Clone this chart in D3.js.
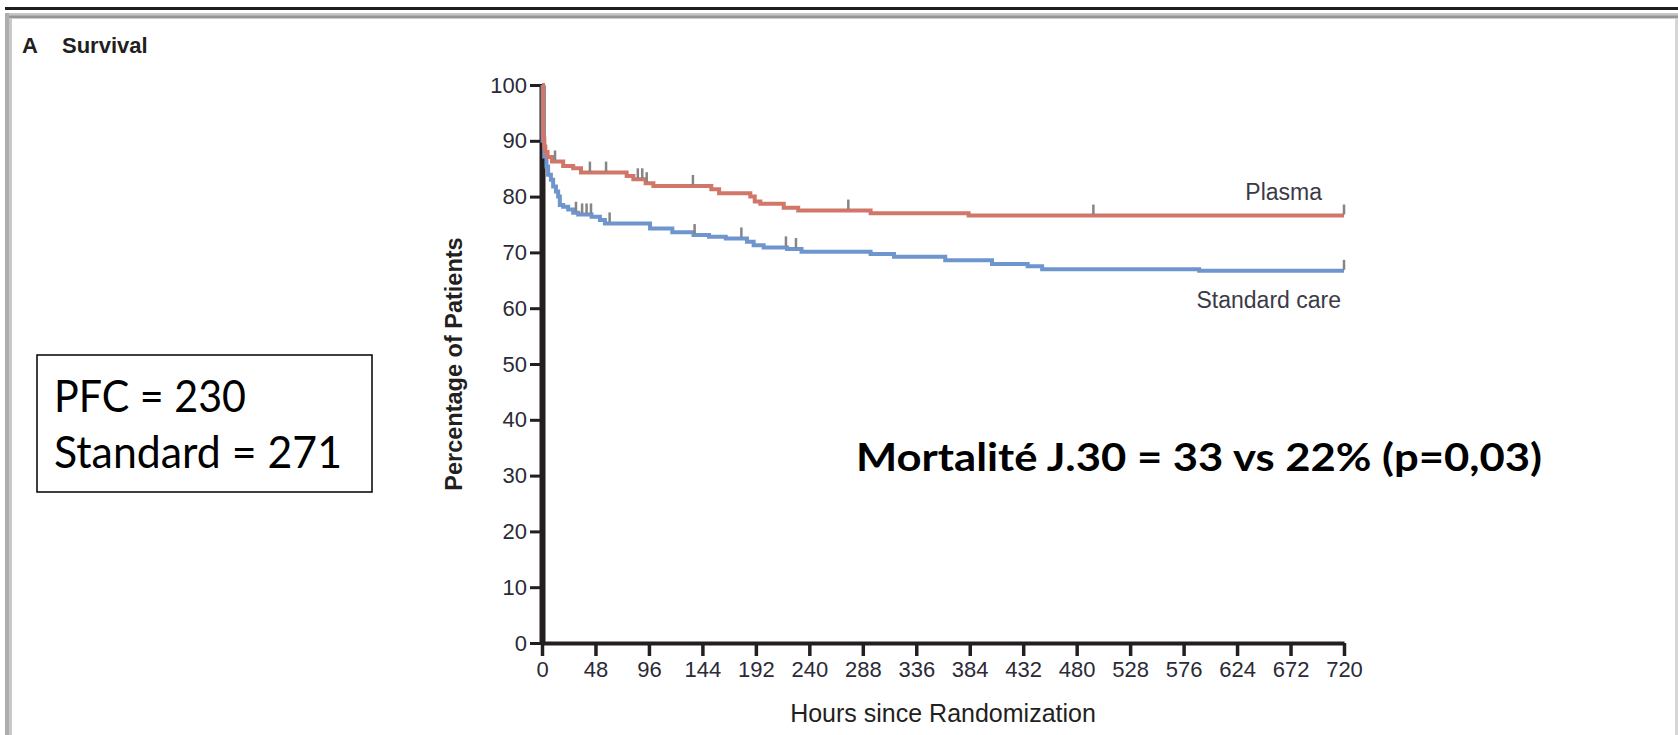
<!DOCTYPE html>
<html>
<head>
<meta charset="utf-8">
<script src="https://cdn.jsdelivr.net/npm/d3@7"></script>
<style>
  html, body { margin: 0; padding: 0; background: #ffffff; overflow: hidden; }
  svg { display: block; }
</style>
</head>
<body>
<svg id="chart" width="1678" height="735"></svg>
<script>
// Kaplan-Meier survival, hours since randomization
const xTicks = [0, 48, 96, 144, 192, 240, 288, 336, 384, 432, 480, 528, 576, 624, 672, 720];
const yTicks = [0, 10, 20, 30, 40, 50, 60, 70, 80, 90, 100];

// Plasma arm: step times (h) and survival (%)
const plasmaTimes    = [0, 1, 2, 3, 5, 9, 19, 28, 35, 76, 82, 93, 100, 152, 159, 187, 191, 196, 217, 230, 295, 383, 720];
const plasmaSurvival = [100, 90.5, 89, 88, 87.1, 86.3, 85.5, 85.1, 84.3, 83.7, 83.1, 82.4, 81.9, 81.3, 80.6, 80.0, 79.1, 78.7, 78.0, 77.5, 77.0, 76.6, 76.6];
const plasmaCensored = [11.7, 43, 57.5, 86, 90, 94, 135.5, 275, 495, 720];

// Standard care arm
const standardTimes    = [0, 0.5, 2, 4, 5.5, 8, 10, 12.5, 14.5, 16, 19, 23.5, 28, 32.5, 44.5, 52, 56.5, 97, 117, 136, 150, 165, 184, 190, 199, 220, 233, 295, 316, 362, 404, 436, 449, 590, 720];
const standardSurvival = [100, 90, 87.2, 85.4, 83.9, 83.0, 81.8, 80.9, 80.0, 78.5, 78.2, 77.7, 77.1, 76.8, 76.4, 75.8, 75.2, 74.3, 73.6, 73.1, 72.8, 72.5, 71.9, 71.3, 70.9, 70.6, 70.1, 69.7, 69.2, 68.6, 67.9, 67.5, 67.0, 66.7, 66.7];
const standardCensored = [30.5, 36, 40, 44, 60.7, 137, 179, 219, 228, 720];

const seriesNames = ["Plasma", "Standard care"];
const seriesColors = ["#d3766a", "#6f95ce"];

const svg = d3.select("#chart");
const ink = "#231f20";
const chartFont = "'Liberation Sans', Arial, sans-serif";

// ---- page frame ----
svg.append("rect").attr("x", 5).attr("y", 7).attr("width", 1673).attr("height", 3).attr("fill", "#1e1e1e");
svg.append("rect").attr("x", 5).attr("y", 13).attr("width", 1673).attr("height", 3).attr("fill", "#c6c6c6");
svg.append("rect").attr("x", 9).attr("y", 15.5).attr("width", 1669).attr("height", 3).attr("fill", "#959595");
svg.append("rect").attr("x", 5).attr("y", 13).attr("width", 4).attr("height", 722).attr("fill", "#adadad");
svg.append("rect").attr("x", 9).attr("y", 18.5).attr("width", 3).attr("height", 717).attr("fill", "#c8c8c8");
svg.append("rect").attr("x", 1675).attr("y", 18.5).attr("width", 3).attr("height", 717).attr("fill", "#d6d6d6");

// ---- panel title ----
const title = svg.append("g").attr("font-family", chartFont).attr("font-weight", "bold")
  .attr("font-size", 22).attr("fill", ink);
title.append("text").attr("x", 22).attr("y", 53).text("A");
title.append("text").attr("x", 62).attr("y", 53).text("Survival");

// ---- scales ----
const x = d3.scaleLinear().domain([0, 720]).range([542, 1344]);
const y = d3.scaleLinear().domain([0, 100]).range([643, 85]);

// ---- axes ----
const yAxis = svg.append("g").attr("transform", `translate(${x(0)},0)`)
  .call(d3.axisLeft(y).tickValues(yTicks).tickSize(12).tickSizeOuter(0).tickPadding(3));
yAxis.select(".domain").attr("stroke", ink).attr("stroke-width", 6);
yAxis.selectAll(".tick line").attr("stroke", ink).attr("stroke-width", 3);
yAxis.selectAll(".tick text").attr("font-family", chartFont).attr("font-size", 22).attr("fill", "#2b2a36");

const xAxis = svg.append("g").attr("transform", `translate(0,${y(0)})`)
  .call(d3.axisBottom(x).tickValues(xTicks).tickSize(13).tickSizeOuter(0).tickPadding(5));
xAxis.select(".domain").attr("stroke", ink).attr("stroke-width", 4);
xAxis.selectAll(".tick line").attr("stroke", ink).attr("stroke-width", 3.5);
xAxis.selectAll(".tick text").attr("font-family", chartFont).attr("font-size", 22).attr("fill", "#2b2a36");

// axis titles
svg.append("text")
  .attr("transform", `translate(462,${y(50)}) rotate(-90)`)
  .attr("text-anchor", "middle").attr("font-family", chartFont).attr("font-size", 23.5)
  .attr("font-weight", "bold").attr("fill", ink)
  .text("Percentage of Patients");
svg.append("text")
  .attr("x", (x(0) + x(720)) / 2).attr("y", 722)
  .attr("text-anchor", "middle").attr("font-family", chartFont).attr("font-size", 25)
  .attr("fill", ink)
  .text("Hours since Randomization");

// ---- survival curves ----
function toPoints(times, surv) { return times.map((t, i) => ({ t: t, s: surv[i] })); }
function survivalAt(times, surv, t) {
  let v = surv[0];
  for (let i = 0; i < times.length; i++) { if (times[i] <= t) v = surv[i]; }
  return v;
}
const arms = [
  { name: seriesNames[0], color: seriesColors[0], times: plasmaTimes, surv: plasmaSurvival, cens: plasmaCensored },
  { name: seriesNames[1], color: seriesColors[1], times: standardTimes, surv: standardSurvival, cens: standardCensored }
];
const stepLine = d3.line().x(d => x(d.t)).y(d => y(d.s)).curve(d3.curveStepAfter);

// standard care underneath, plasma on top
[arms[1], arms[0]].forEach(arm => {
  svg.append("path")
    .datum(toPoints(arm.times, arm.surv))
    .attr("d", stepLine)
    .attr("fill", "none")
    .attr("stroke", arm.color)
    .attr("stroke-width", 4);
});

// censoring marks
arms.forEach(arm => {
  svg.append("g").selectAll("line").data(arm.cens).join("line")
    .attr("x1", t => x(t)).attr("x2", t => x(t))
    .attr("y1", t => y(survivalAt(arm.times, arm.surv, t)) - 1)
    .attr("y2", t => y(survivalAt(arm.times, arm.surv, t)) - 11)
    .attr("stroke", "#858585").attr("stroke-width", 2.5);
});

// curve labels
svg.append("text").attr("x", 1322).attr("y", 200).attr("text-anchor", "end")
  .attr("font-family", chartFont).attr("font-size", 23).attr("fill", "#3b3a46").text(seriesNames[0]);
svg.append("text").attr("x", 1341).attr("y", 308).attr("text-anchor", "end")
  .attr("font-family", chartFont).attr("font-size", 23).attr("fill", "#3b3a46").text(seriesNames[1]);

// ---- sample size box ----
const boxFont = "Lato, 'Open Sans', sans-serif";
svg.append("rect").attr("x", 37).attr("y", 355).attr("width", 335).attr("height", 137)
  .attr("fill", "#ffffff").attr("stroke", "#000000").attr("stroke-width", 1.5);
svg.append("text").attr("x", 54).attr("y", 412).attr("font-family", boxFont).attr("font-size", 44)
  .attr("fill", "#000").attr("textLength", 192).attr("lengthAdjust", "spacingAndGlyphs").text("PFC = 230");
svg.append("text").attr("x", 54).attr("y", 468).attr("font-family", boxFont).attr("font-size", 44)
  .attr("fill", "#000").attr("textLength", 288).attr("lengthAdjust", "spacingAndGlyphs").text("Standard = 271");

// ---- 30-day mortality note ----
svg.append("text").attr("x", 856).attr("y", 471).attr("font-family", boxFont).attr("font-weight", "bold")
  .attr("font-size", 39).attr("fill", "#000")
  .attr("textLength", 686).attr("lengthAdjust", "spacingAndGlyphs")
  .text("Mortalité J.30 = 33 vs 22% (p=0,03)");
</script>
</body>
</html>
